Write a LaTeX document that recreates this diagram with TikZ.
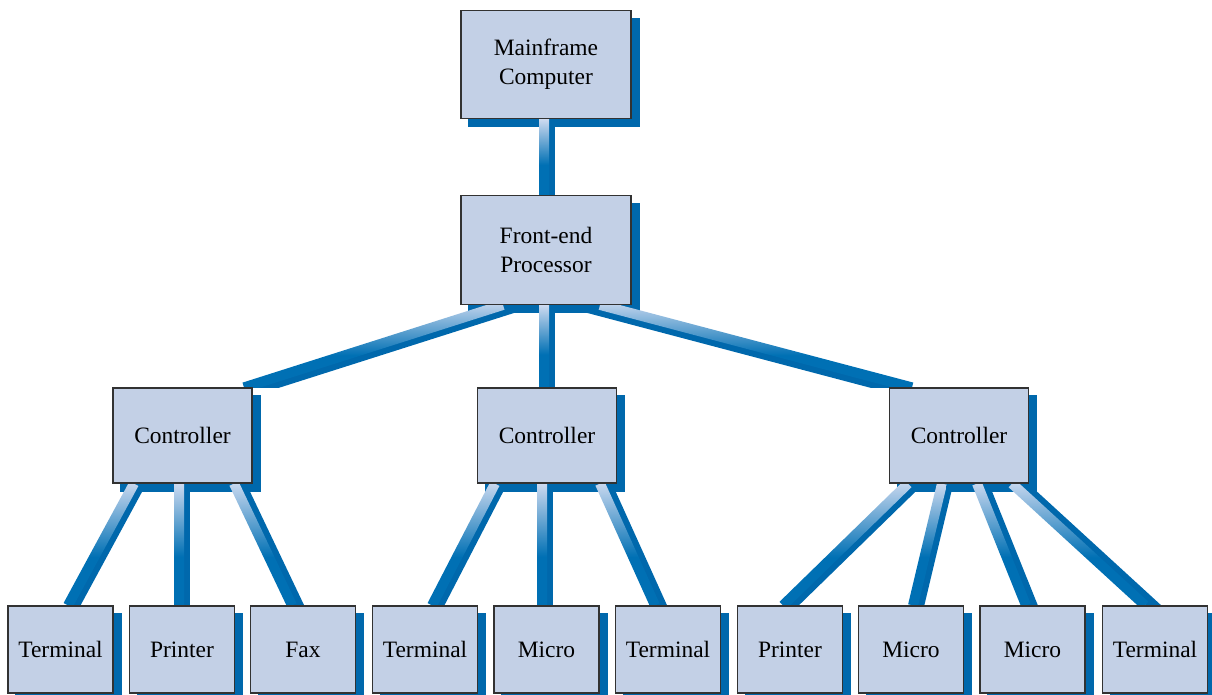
\documentclass[tikz,border=0pt]{standalone}
\usepackage{fontspec}
\setmainfont{Liberation Serif}
\usetikzlibrary{calc}
\definecolor{boxfill}{RGB}{195,208,230}
\definecolor{boxline}{RGB}{50,50,50}
\definecolor{pipeblue}{RGB}{0,104,172}
\definecolor{pipemid}{RGB}{0,112,180}
\definecolor{pipepale}{RGB}{205,218,240}
\pgfdeclarelayer{shadow}
\pgfdeclarelayer{pipes}
\pgfsetlayers{shadow,pipes,main}
% light face of a pipe: pale at the upper end, full blue from the middle down
\pgfdeclareverticalshading{pipelight}{100bp}{color(0bp)=(pipemid); color(25bp)=(pipemid); color(45bp)=(pipemid); color(75bp)=(pipepale); color(100bp)=(pipepale)}
\tikzset{
  box/.style={draw=boxline, line width=0.9pt, fill=boxfill, inner sep=0pt,
    align=center, font=\fontsize{17.6}{21.5}\selectfont},
  bigbox/.style={box, minimum width=127.5pt, minimum height=81.5pt},
  ctlbox/.style={box, minimum width=104.25pt, minimum height=71.25pt},
  devbox/.style={box, minimum width=78.75pt, minimum height=65.25pt},
  pipedark/.style={draw=pipeblue, line width=7.5pt},
}
% pipe between two named coordinates; #3 (90 or -90) picks the side
% of the dark underside relative to the pipe direction.
% Both ends are cut flat at the box edges.
\newcommand{\drawpipe}[3]{%
  \begin{scope}
    \clip ($(#1)+(-400,0)$) rectangle ($(#2)+(400,0)$);
    \coordinate (pipeoff) at ($(#1)!4.5pt!#3:(#2)$);
    \draw[pipedark] ($(#1)!-0.15!(#2)+(pipeoff)-(#1)$)
      -- ($(#1)!1.15!(#2)+(pipeoff)-(#1)$);
    \shade[shading=pipelight] ($(#1)!3.75pt!90:(#2)$) -- ($(#2)!3.75pt!-90:(#1)$)
      -- ($(#2)!3.75pt!90:(#1)$) -- ($(#1)!3.75pt!-90:(#2)$) -- cycle;
  \end{scope}
}
% box shadow, offset right and down
\newcommand{\boxshadow}[1]{%
  \fill[pipeblue] ($(#1.north west)+(8,8)$) rectangle ($(#1.south east)+(8,8)$);
}
\begin{document}
\begin{tikzpicture}[x=0.75pt, y=-0.75pt]
\useasboundingbox (0,0) rectangle (1212,695);

% boxes
\node[bigbox] (mf)  at (546,64.5) {Mainframe\\Computer};
\node[bigbox] (fep) at (546,250)  {Front-end\\Processor};
\node[ctlbox] (c1) at (182.5,435.5) {Controller};
\node[ctlbox] (c2) at (547,435.5)   {Controller};
\node[ctlbox] (c3) at (959,435.5)   {Controller};
\node[devbox] (d1)  at (60.5,649.5)   {Terminal};
\node[devbox] (d2)  at (182,649.5)    {Printer};
\node[devbox] (d3)  at (303,649.5)    {Fax};
\node[devbox] (d4)  at (425,649.5)    {Terminal};
\node[devbox] (d5)  at (546.5,649.5)  {Micro};
\node[devbox] (d6)  at (668,649.5)    {Terminal};
\node[devbox] (d7)  at (790,649.5)    {Printer};
\node[devbox] (d8)  at (911,649.5)    {Micro};
\node[devbox] (d9)  at (1032.5,649.5) {Micro};
\node[devbox] (d10) at (1155,649.5)   {Terminal};

\begin{pgfonlayer}{shadow}
  \foreach \n in {mf,fep,c1,c2,c3,d1,d2,d3,d4,d5,d6,d7,d8,d9,d10}
    {\boxshadow{\n}}
\end{pgfonlayer}

% pipe end points on the box edges
\coordinate (a0) at ($(mf.south)+(-2,0)$);
\coordinate (b0) at ($(fep.north)+(-2,0)$);
\coordinate (a1) at ($(fep.south)+(-43,0)$);
\coordinate (b1) at ($(c1.north)+(61.5,0)$);
\coordinate (a2) at ($(fep.south)+(-2,0)$);
\coordinate (b2) at ($(c2.north)+(-3,0)$);
\coordinate (a3) at ($(fep.south)+(54,0)$);
\coordinate (b3) at ($(c3.north)+(-47,0)$);
\coordinate (a4) at ($(c1.south)+(-48.5,0)$);
\coordinate (b4) at ($(d1.north)+(7.5,0)$);
\coordinate (a5) at ($(c1.south)+(-3.5,0)$);
\coordinate (b5) at ($(d2.north)+(-3,0)$);
\coordinate (a6) at ($(c1.south)+(51.5,0)$);
\coordinate (b6) at ($(d3.north)+(-11,0)$);
\coordinate (a7) at ($(c2.south)+(-52,0)$);
\coordinate (b7) at ($(d4.north)+(7,0)$);
\coordinate (a8) at ($(c2.south)+(-5,0)$);
\coordinate (b8) at ($(d5.north)+(-4.5,0)$);
\coordinate (a9) at ($(c2.south)+(53,0)$);
\coordinate (b9) at ($(d6.north)+(-13,0)$);
\coordinate (a10) at ($(c3.south)+(-51,0)$);
\coordinate (b10) at ($(d7.north)+(-7,0)$);
\coordinate (a11) at ($(c3.south)+(-17,0)$);
\coordinate (b11) at ($(d8.north)+(2,0)$);
\coordinate (a12) at ($(c3.south)+(18,0)$);
\coordinate (b12) at ($(d9.north)+(-6.5,0)$);
\coordinate (a13) at ($(c3.south)+(53,0)$);
\coordinate (b13) at ($(d10.north)+(-10,0)$);

\begin{pgfonlayer}{pipes}
  \foreach \i/\s in {0/90,1/90,2/90,3/-90,4/90,5/90,6/90,7/90,8/90,9/90,
                     10/90,11/90,12/90,13/90}
    {\drawpipe{a\i}{b\i}{\s}}
\end{pgfonlayer}
\end{tikzpicture}
\end{document}
